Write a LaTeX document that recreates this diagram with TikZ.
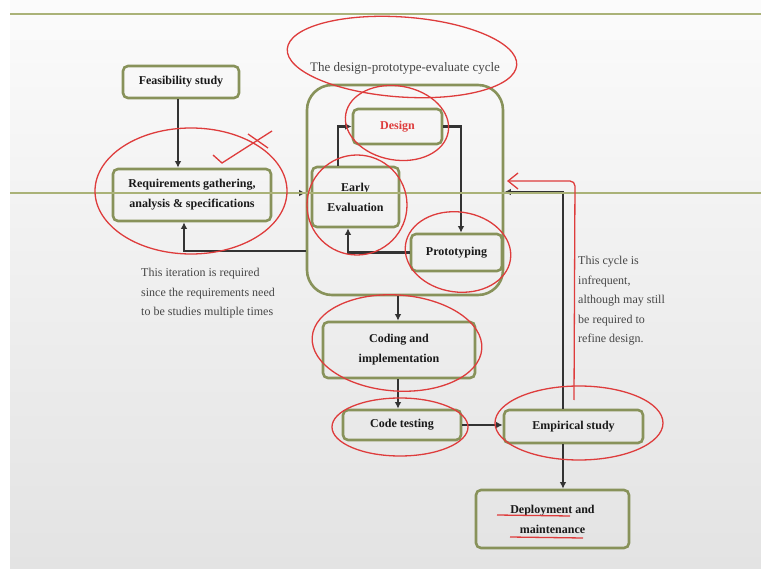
\documentclass[tikz,border=0pt]{standalone}
\usepackage{fontspec}
\setmainfont{Liberation Serif}
\usetikzlibrary{arrows.meta,calc}
\definecolor{boxolive}{RGB}{136,146,90}
\definecolor{ruleolive}{RGB}{170,178,120}
\definecolor{penred}{RGB}{222,60,60}
\definecolor{inkgray}{RGB}{70,70,70}
\begin{document}
\begin{tikzpicture}[x=1pt,y=-1pt,
  box/.style={draw=boxolive, line width=2.6pt, rounded corners=5pt, align=center,
    font=\bfseries\fontsize{12}{20}\selectfont, inner sep=0pt, text=black!90},
  arr/.style={draw=black!80, line width=2.2pt, -{Latex[length=6.5pt,width=6.5pt]}},
  pen/.style={draw=penred, line width=1.3pt},
  note/.style={align=left, font=\fontsize{12}{19.5}\selectfont, text=inkgray, inner sep=0pt, anchor=north west}]
\useasboundingbox (0,0) rectangle (761,569);
\fill[white] (0,0) rectangle (761,569);
\shade[top color=gray!3, middle color=gray!5, bottom color=gray!22] (10,0) rectangle (761,569);

% boxes
\node[box, minimum width=116pt, minimum height=32pt] (feas) at (181,82) {Feasibility study};
\node[box, minimum width=158pt, minimum height=52pt] (req) at (192,195) {Requirements gathering,\\analysis \& specifications};
\node[draw=boxolive, line width=2.6pt, rounded corners=25pt, minimum width=196pt, minimum height=210pt, inner sep=0pt] (cont) at (405,190) {};
\node[font=\fontsize{13}{15}\selectfont, text=inkgray] (cyc) at (405,68) {The design-prototype-evaluate cycle};
\node[box, minimum width=89pt, minimum height=35pt, text=penred] (design) at (397.5,126.5) {Design};
\node[box, minimum width=87pt, minimum height=60pt] (early) at (355.5,197) {Early\\Evaluation};
\node[box, minimum width=91pt, minimum height=37pt] (proto) at (456.5,252.5) {Prototyping};
\node[box, minimum width=152pt, minimum height=56pt] (coding) at (399,350) {Coding and\\implementation};
\node[box, minimum width=118pt, minimum height=30pt] (ctest) at (402,425) {Code testing};
\node[box, minimum width=139pt, minimum height=33pt] (emp) at (573.5,426.5) {Empirical study};
\node[box, minimum width=153pt, minimum height=58pt] (deploy) at (552.5,519) {Deployment and\\maintenance};

\node[note] (n1) at (141,268) {This iteration is required\\since the requirements need\\to be studies multiple times};
\node[note] (n2) at (578,256) {This cycle is\\infrequent,\\although may still\\be required to\\refine design.};

% helper coordinates for connector columns/rows
\coordinate (xf) at (178,0);
\coordinate (loopL) at (184,251);
\coordinate (xe1) at (338,0);
\coordinate (xd) at (461,0);
\coordinate (xp) at (348,0);
\coordinate (xk) at (398,0);
\coordinate (xm) at (563,0);

% connectors
\draw[arr] (feas.south -| xf) -- (req.north -| xf);
\draw[arr] (req.east |- 0,193) -- (cont.west |- 0,193);
\draw[arr] (cont.west |- loopL) -| (req.south -| loopL);
\draw[arr] (early.north -| xe1) |- (design.west);
\draw[arr] (design.east) -| (proto.north -| xd);
\draw[arr] (proto.west) -| (early.south -| xp);
\draw[arr] (cont.south -| xk) -- (coding.north -| xk);
\draw[arr] (coding.south -| xk) -- (ctest.north -| xk);
\draw[arr] (ctest.east) -- (ctest.east -| emp.west);
\draw[arr] (emp.north -| xm) |- (cont.east |- 0,192);
\draw[arr] (emp.south -| xm) -- (deploy.north -| xm);

% ruled lines of the page
\draw[ruleolive, line width=2pt] (10,14) -- (761,14);
\draw[ruleolive, line width=2pt] (10,193) -- (761,193);

% red pen annotations
\draw[pen, rotate around={-4:(402,57)}] (402,57) ellipse (115 and 40);
\draw[pen] (191,191) ellipse (96 and 63);
\draw[pen] (213,155) -- (222,163) -- (272,131);
\draw[pen] (248,134) -- (268,148);
\draw[pen, rotate around={-10:(397,123)}] (397,123) ellipse (52 and 37);
\draw[pen] (357,205) ellipse (50 and 50);
\draw[pen, rotate around={-8:(458,252)}] (458,252) ellipse (53 and 40);
\draw[pen, rotate around={-4:(397,343)}] (397,343) ellipse (85 and 48);
\draw[pen] (400,427) ellipse (68 and 29);
\draw[pen] (579,423) ellipse (84 and 37);
\draw[pen, rounded corners=5pt, -{Straight Barb[length=10pt,width=16pt]}] (574,400) -- (575,181) -- (507,181);
\draw[pen] (497,515) -- (570,516);
\draw[pen] (510,537) -- (583,538);
\end{tikzpicture}
\end{document}
